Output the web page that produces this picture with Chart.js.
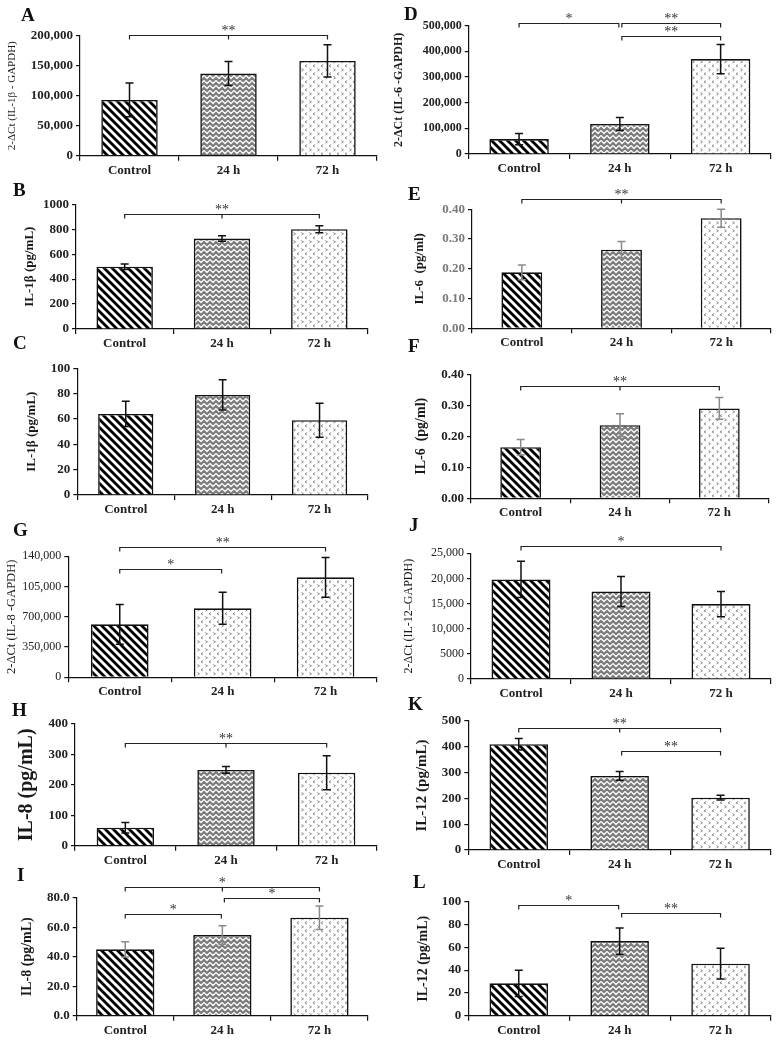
<!DOCTYPE html>
<html>
<head>
<meta charset="utf-8">
<script src="https://cdn.jsdelivr.net/npm/chart.js@4.4.1/dist/chart.umd.min.js"></script>
<style>
  html, body { margin: 0; padding: 0; background: #fff; }
  #fig { position: relative; width: 782px; height: 1043px; overflow: hidden; background: #fff; }
  #fig canvas { position: absolute; }
  .letter { position: absolute; font: bold 19px "Liberation Serif", serif; line-height: 1; color: #111; }
</style>
</head>
<body>
<div id="fig"></div>
<script>
const categories = ['Control', '24 h', '72 h'];

// means and error bars
const meanA = [93000, 137000, 158000];
const errA = [28000, 20000, 27000];
const meanB = [500, 725, 800];
const errB = [22, 22, 28];
const meanC = [64, 79, 59];
const errC = [10, 12, 13.5];
const meanD = [58000, 117000, 370000];
const errD = [22000, 25000, 57000];
const meanE = [0.188, 0.264, 0.370];
const errE = [0.025, 0.028, 0.030];
const meanF = [0.165, 0.236, 0.290];
const errF = [0.025, 0.037, 0.035];
const meanG = [61300, 79800, 115700];
const errG = [23000, 18500, 23000];
const meanH = [59, 249, 240];
const errH = [17, 11, 56];
const meanI = [45.0, 54.7, 66.4];
const errI = [5.2, 6.3, 8.0];
const meanJ = [19800, 17400, 14900];
const errJ = [3600, 3000, 2500];
const meanK = [410, 287, 203];
const errK = [22, 17, 9];
const meanL = [28.4, 65.5, 45.6];
const errL = [11.5, 11.5, 13.5];

// tick labels of G are printed this way in the original figure
const tickLabelsG = ['0', '350,000', '700,000', '105,000', '140,000'];

// significance brackets: [from, to, y value, label, center tick]
const sigA = [[0, 2, 201000, '**', true]];
const sigB = [[0, 2, 920, '**', true]];
const sigC = [];
const sigD = [[0, 1, 512000, '*', false], [1, 2, 512000, '**', false], [1, 2, 460000, '**', false]];
const sigE = [[0, 2, 0.435, '**', true]];
const sigF = [[0, 2, 0.363, '**', true]];
const sigG = [[0, 1, 125300, '*', false], [0, 2, 150800, '**', false]];
const sigH = [[0, 2, 339, '**', true]];
const sigI = [[0, 2, 87.1, '*', true], [1, 2, 79.6, '*', false], [0, 1, 68.7, '*', false]];
const sigJ = [[0, 2, 26500, '*', false]];
const sigK = [[0, 2, 474, '**', true], [1, 2, 384, '**', false]];
const sigL = [[0, 1, 97.1, '*', false], [1, 2, 89.8, '**', false]];

const fig = document.getElementById('fig');
const SERIF = '"Liberation Serif", "Times New Roman", serif';

function stripePattern() {
  const c = document.createElement('canvas');
  c.width = 8; c.height = 8;
  const g = c.getContext('2d');
  g.fillStyle = '#fff';
  g.fillRect(0, 0, 8, 8);
  g.strokeStyle = '#000';
  g.lineWidth = 2.8;
  for (const k of [-8, 0, 8]) {
    g.beginPath();
    g.moveTo(k - 2, -2);
    g.lineTo(k + 10, 10);
    g.stroke();
  }
  return g.createPattern(c, 'repeat');
}

function zigzagPattern() {
  const c = document.createElement('canvas');
  c.width = 6; c.height = 5;
  const g = c.getContext('2d');
  g.fillStyle = '#7c7c7c';
  g.fillRect(0, 0, 6, 5);
  g.strokeStyle = '#f4f4f4';
  g.lineWidth = 1.4;
  g.beginPath();
  g.moveTo(-1.5, 0); g.lineTo(0, 0.5); g.lineTo(3, 3.5); g.lineTo(6, 0.5); g.lineTo(7.5, 0);
  g.stroke();
  return g.createPattern(c, 'repeat');
}

function dotPattern() {
  const c = document.createElement('canvas');
  c.width = 8; c.height = 8;
  const g = c.getContext('2d');
  g.fillStyle = '#fff';
  g.fillRect(0, 0, 8, 8);
  g.strokeStyle = '#8a8a8a';
  g.lineWidth = 1;
  g.beginPath();
  g.moveTo(3, 0.5); g.lineTo(1, 1.8); g.lineTo(3, 3);
  g.moveTo(5.5, 4.5); g.lineTo(7.5, 5.8); g.lineTo(5.5, 7);
  g.stroke();
  return g.createPattern(c, 'repeat');
}

const fills = { stripe: stripePattern(), zig: zigzagPattern(), dot: dotPattern() };

function commaFmt(v) {
  return v >= 10000 ? v.toLocaleString('en-US') : String(v);
}

const panels = [
  { letter: 'A', at: [21, 8], col: 0, area: [80, 377, 35.7, 155.7], mean: meanA, err: errA, sig: sigA,
    max: 200000, step: 50000, fmt: commaFmt, tick: { size: 13, weight: 'bold' },
    title: '2-ΔCt (IL-1β - GAPDH)', tfont: { size: 11, weight: 'normal' }, tx: 12, bar: 0.57 },
  { letter: 'D', at: [404, 7], col: 1, area: [468.7, 771, 25.7, 154], mean: meanD, err: errD, sig: sigD,
    max: 500000, step: 100000, fmt: commaFmt, tick: { size: 12, weight: 'bold' },
    title: '2-ΔCt (IL-6 -GAPDH)', tfont: { size: 12, weight: 'bold' }, tx: 399, bar: 0.59 },
  { letter: 'B', at: [13, 183], col: 0, area: [76, 368, 204.3, 329], mean: meanB, err: errB, sig: sigB,
    max: 1000, step: 200, fmt: v => String(v), tick: { size: 13, weight: 'bold' },
    title: 'IL-1β (pg/mL)', tfont: { size: 13, weight: 'bold' }, tx: 30, bar: 0.58 },
  { letter: 'E', at: [408, 187], col: 1, area: [472, 771, 209.3, 328.3], mean: meanE, err: errE, sig: sigE,
    max: 0.4, step: 0.1, fmt: v => v.toFixed(2), tick: { size: 13, weight: 'bold' }, tickColor: '#7a7a7a',
    title: 'IL-6  (pg/ml)', tfont: { size: 13, weight: 'bold' }, tx: 420, bar: 0.41, errColor: '#8a8a8a' },
  { letter: 'C', at: [13, 336], col: 0, area: [77.3, 368, 368.3, 495], mean: meanC, err: errC, sig: sigC,
    max: 100, step: 20, fmt: v => String(v), tick: { size: 13, weight: 'bold' },
    title: 'IL-1β (pg/mL)', tfont: { size: 13, weight: 'bold' }, tx: 32, bar: 0.57 },
  { letter: 'F', at: [408, 339], col: 1, area: [471, 769, 374.3, 498.3], mean: meanF, err: errF, sig: sigF,
    max: 0.4, step: 0.1, fmt: v => v.toFixed(2), tick: { size: 13, weight: 'bold' },
    title: 'IL-6  (pg/ml)', tfont: { size: 14, weight: 'bold' }, tx: 421, bar: 0.41, errColor: '#8a8a8a' },
  { letter: 'G', at: [13, 523], col: 0, area: [68.3, 377, 556.3, 677.3], mean: meanG, err: errG, sig: sigG,
    max: 140000, step: 35000, fmt: (v, i) => tickLabelsG[i], tick: { size: 12, weight: 'normal' },
    title: '2-ΔCt (IL-8 -GAPDH)', tfont: { size: 12.5, weight: 'normal' }, tx: 12, bar: 0.56, dotted24: true },
  { letter: 'J', at: [409, 518], col: 1, area: [471, 771, 553.3, 679], mean: meanJ, err: errJ, sig: sigJ,
    max: 25000, step: 5000, fmt: commaFmt, tick: { size: 12, weight: 'normal' },
    title: '2-ΔCt (IL-12–GAPDH)', tfont: { size: 12, weight: 'normal' }, tx: 409, bar: 0.59 },
  { letter: 'H', at: [12, 703], col: 0, area: [75, 377, 724, 845.7], mean: meanH, err: errH, sig: sigH,
    max: 400, step: 100, fmt: v => String(v), tick: { size: 13, weight: 'bold' },
    title: 'IL-8 (pg/mL)', tfont: { size: 20, weight: 'bold' }, tx: 27, bar: 0.57 },
  { letter: 'K', at: [408, 697], col: 1, area: [468.3, 771, 721, 850], mean: meanK, err: errK, sig: sigK,
    max: 500, step: 100, fmt: v => String(v), tick: { size: 13, weight: 'bold' },
    title: 'IL-12 (pg/mL)', tfont: { size: 15, weight: 'bold' }, tx: 422, bar: 0.58 },
  { letter: 'I', at: [17, 868], col: 0, area: [76.7, 368, 897.7, 1015.7], mean: meanI, err: errI, sig: sigI,
    max: 80, step: 20, fmt: v => v.toFixed(1), tick: { size: 13, weight: 'bold' },
    title: 'IL-8 (pg/mL)', tfont: { size: 14, weight: 'bold' }, tx: 27, bar: 0.6, errColor: '#8a8a8a' },
  { letter: 'L', at: [413, 875], col: 1, area: [468.3, 771, 901.7, 1015.7], mean: meanL, err: errL, sig: sigL,
    max: 100, step: 20, fmt: v => String(v), tick: { size: 13, weight: 'bold' },
    title: 'IL-12 (pg/mL)', tfont: { size: 14, weight: 'bold' }, tx: 423, bar: 0.58 },
];

function annotPlugin(p) {
  return {
    id: 'annot' + p.letter,
    afterDatasetsDraw(chart) {
      const { ctx } = chart;
      const y = chart.scales.y;
      const meta = chart.getDatasetMeta(0);
      ctx.save();
      ctx.strokeStyle = p.errColor || '#111';
      ctx.lineWidth = 1.5;
      meta.data.forEach((bar, i) => {
        const x = bar.x;
        const y1 = y.getPixelForValue(p.mean[i] + p.err[i]);
        const y2 = y.getPixelForValue(p.mean[i] - p.err[i]);
        ctx.beginPath();
        ctx.moveTo(x, y1); ctx.lineTo(x, y2);
        ctx.moveTo(x - 4, y1); ctx.lineTo(x + 4, y1);
        ctx.moveTo(x - 4, y2); ctx.lineTo(x + 4, y2);
        ctx.stroke();
      });
      ctx.restore();
    },
    afterDraw(chart) {
      const { ctx } = chart;
      const xs = chart.scales.x;
      const ys = chart.scales.y;
      ctx.save();
      ctx.strokeStyle = '#222';
      ctx.lineWidth = 1.2;
      ctx.fillStyle = '#333';
      ctx.textAlign = 'center';
      ctx.textBaseline = 'alphabetic';
      p.sig.forEach(([from, to, val, label, center]) => {
        const x1 = xs.getPixelForValue(from) + (from === 1 ? 2 : 0);
        const x2 = xs.getPixelForValue(to) - (to === 1 ? 1 : 0);
        const yy = Math.round(ys.getPixelForValue(val)) + 0.5;
        ctx.beginPath();
        ctx.moveTo(x1, yy + 4); ctx.lineTo(x1, yy); ctx.lineTo(x2, yy); ctx.lineTo(x2, yy + 4);
        if (center) {
          const xc = xs.getPixelForValue(1);
          ctx.moveTo(xc, yy); ctx.lineTo(xc, yy + 4);
        }
        ctx.stroke();
        ctx.font = '14px ' + SERIF;
        ctx.fillText(label, (x1 + x2) / 2, yy - 0.5);
      });
      ctx.restore();
    },
  };
}

function makeChart(p) {
  const left = p.col * 391;
  const [aL, aR, aT, aB] = p.area;
  const top = Math.max(0, Math.floor(aT - 40));
  const height = Math.ceil(aB + 26) - top;
  const canvas = document.createElement('canvas');
  canvas.width = 391;
  canvas.height = height;
  canvas.style.left = left + 'px';
  canvas.style.top = top + 'px';
  fig.appendChild(canvas);

  const barFills = [fills.stripe, p.dotted24 ? fills.dot : fills.zig, fills.dot];
  const lineH = p.tfont.size * 1.2;

  new Chart(canvas, {
    type: 'bar',
    data: {
      labels: categories,
      datasets: [{
        data: p.mean,
        backgroundColor: barFills,
        borderColor: '#111',
        borderWidth: 1.6,
        barPercentage: p.bar,
        categoryPercentage: 1,
      }],
    },
    options: {
      responsive: false,
      animation: false,
      devicePixelRatio: 1,
      layout: { padding: { top: aT - top, right: left + 391 - aR, left: 0, bottom: 0 } },
      plugins: { legend: { display: false }, tooltip: { enabled: false } },
      scales: {
        x: {
          grid: { offset: true, drawOnChartArea: false, tickLength: 5, color: '#111', lineWidth: 1.2 },
          border: { color: '#111', width: 1.2 },
          ticks: { font: { family: SERIF, size: 13, weight: 'bold' }, color: '#222', padding: 2, maxRotation: 0 },
          afterFit: (s) => { s.height = height - (aB - top); },
        },
        y: {
          min: 0,
          max: p.max,
          ticks: {
            stepSize: p.step,
            callback: (v, i) => p.fmt(v, i),
            font: { family: SERIF, size: p.tick.size, weight: p.tick.weight },
            color: p.tickColor || '#222',
            padding: 3,
          },
          grid: { drawOnChartArea: false, tickLength: 4, color: '#111', lineWidth: 1.2 },
          border: { color: '#111', width: 1.2 },
          title: {
            display: true,
            text: p.title,
            color: '#1a1a1a',
            font: { family: SERIF, size: p.tfont.size, weight: p.tfont.weight },
            padding: { top: p.tx - left - lineH / 2, bottom: 0 },
          },
          afterFit: (s) => { s.width = aL - left; },
        },
      },
    },
    plugins: [annotPlugin(p)],
  });

  const letter = document.createElement('div');
  letter.className = 'letter';
  letter.textContent = p.letter;
  letter.style.left = p.at[0] + 'px';
  letter.style.top = (p.at[1] - 3.3) + 'px';
  return letter;
}

const letters = panels.map(makeChart);
letters.forEach((el) => fig.appendChild(el));
</script>
</body>
</html>
